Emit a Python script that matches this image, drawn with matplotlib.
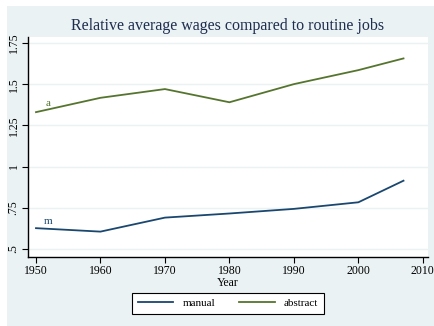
import matplotlib.pyplot as plt
from matplotlib.patches import Rectangle

years = [1950, 1960, 1970, 1980, 1990, 2000, 2007]
manual = [0.626, 0.605, 0.69, 0.715, 0.743, 0.783, 0.914]
abstract = [1.33, 1.417, 1.47, 1.39, 1.50, 1.585, 1.656]

ytick_vals = [0.5, 0.75, 1.0, 1.25, 1.5, 1.75]
ytick_labels = ['.5', '.75', '1', '1.25', '1.5', '1.75']
xtick_vals = [1950, 1960, 1970, 1980, 1990, 2000, 2010]

NAVY = '#1a476f'
GREEN = '#55752f'
BG = '#eaf2f3'

plt.rcParams['font.family'] = ['Liberation Serif', 'DejaVu Serif']

fig = plt.figure(figsize=(4.35, 3.26), dpi=100, facecolor='white')
# graph region background
fig.patches.append(Rectangle((7 / 435, 0), 1 - 7 / 435, 1 - 6 / 326,
                             transform=fig.transFigure, facecolor=BG,
                             edgecolor='none', zorder=-10))

ax = fig.add_axes([28 / 435, 1 - 257 / 326, 400 / 435, 220 / 326])
ax.set_facecolor('white')

ax.plot(years, manual, color=NAVY, lw=1.3, label='manual')
ax.plot(years, abstract, color=GREEN, lw=1.3, label='abstract')
ax.text(1951.9, 1.385, 'a', color=GREEN, fontsize=8, ha='center', va='center')
ax.text(1951.9, 0.664, 'm', color=NAVY, fontsize=8, ha='center', va='center')

ax.set_xlim(1948.76, 2010.8)
ax.set_ylim(0.451, 1.786)
ax.set_xticks(xtick_vals)
ax.set_yticks(ytick_vals)
ax.set_yticklabels(ytick_labels, rotation=90, va='center')
ax.tick_params(axis='both', direction='out', length=4, width=0.8, pad=2,
               labelsize=8.5, colors='black')
ax.grid(axis='y', color=BG, lw=1)
ax.set_axisbelow(True)
for side in ['top', 'right']:
    ax.spines[side].set_visible(False)
for side in ['left', 'bottom']:
    ax.spines[side].set_linewidth(1)

ax.set_xlabel('Year', fontsize=8.5, labelpad=0)
fig.text(228 / 435, 1 - 26 / 326, 'Relative average wages compared to routine jobs',
         ha='center', va='center', fontsize=11.5, color='#1e2d4f')

fig.legend(loc='center', bbox_to_anchor=(228 / 435, 1 - 303.5 / 326), ncol=2,
           fontsize=8, frameon=True, fancybox=False, edgecolor='black',
           facecolor='white', framealpha=1, handlelength=3.2,
           columnspacing=2.2, borderpad=0.5).get_frame().set_linewidth(0.8)

fig.savefig('out.png', dpi=100, facecolor=fig.get_facecolor())
